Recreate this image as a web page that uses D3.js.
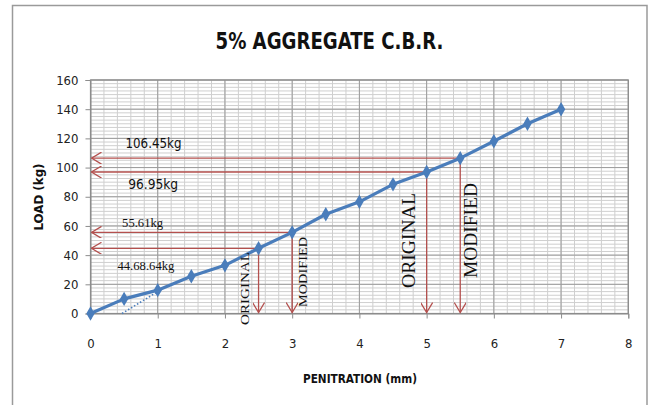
<!DOCTYPE html>
<html>
<head>
<meta charset="utf-8">
<script src="https://cdn.jsdelivr.net/npm/d3@7"></script>
<style>
  html, body { margin: 0; padding: 0; background: #fff; }
  svg { display: block; }
</style>
</head>
<body>
<svg id="chart" width="649" height="405"></svg>
<script>
// CBR test readings: penetration (mm) against load (kg)
const penetration = [0, 0.5, 1, 1.5, 2, 2.5, 3, 3.5, 4, 4.5, 5, 5.5, 6, 6.5, 7];
const load = [0, 10, 16, 25.5, 33, 44.68, 55.61, 68, 76.5, 88.5, 96.95, 106.45, 118, 130, 140];

// Axis ticks
const xTicks = [0, 1, 2, 3, 4, 5, 6, 7, 8];
const yTicks = [0, 20, 40, 60, 80, 100, 120, 140, 160];

// Read-off loads at 2.5 mm and 5.0 mm, original and corrected origin
const readPen = [2.5, 3, 5, 5.5];
const readLoad = [44.68, 55.61, 96.95, 106.45];
const readText = ["44.68.64kg", "55.61kg", "96.95kg", "106.45kg"];
const readKind = ["ORIGINAL", "MODIFIED", "ORIGINAL", "MODIFIED"];

// Origin correction line
const corrPen = [0.47, 1];
const corrLoad = [0, 15];

const W = 649, H = 405;
const svg = d3.select("#chart");

const x = d3.scaleLinear().domain([0, 8]).range([90.5, 628.3]);
const y = d3.scaleLinear().domain([0, 160]).range([313.5, 80]);

const narrow = "'Liberation Sans Narrow','DejaVu Sans Condensed','Roboto Condensed',Arial,sans-serif";
const serif = "'Liberation Serif','Times New Roman',serif";
const red = "#b4504e";
const blue = "#4a7dbb";

// outer chart frame
svg.append("rect")
  .attr("x", 12.5).attr("y", 5.5)
  .attr("width", 634.5).attr("height", 430)
  .attr("fill", "#fff").attr("stroke", "#9a9a9a").attr("stroke-width", 1.5);

// title
svg.append("text")
  .attr("x", 329.5).attr("y", 48.5)
  .attr("text-anchor", "middle")
  .attr("font-family", narrow).attr("font-weight", "bold")
  .attr("font-size", 23).attr("fill", "#111")
  .attr("textLength", 228).attr("lengthAdjust", "spacingAndGlyphs")
  .text("5% AGGREGATE C.B.R.");

// grid
const grid = svg.append("g");
const minorX = d3.range(0, 8.0001, 0.2);
const minorY = d3.range(0, 160.0001, 2.5);
grid.selectAll("line.mx").data(minorX).join("line")
  .attr("x1", d => x(d)).attr("x2", d => x(d))
  .attr("y1", y(0)).attr("y2", y(160))
  .attr("stroke", "#cfcfcf").attr("stroke-width", 1);
grid.selectAll("line.my").data(minorY).join("line")
  .attr("x1", x(0)).attr("x2", x(8))
  .attr("y1", d => y(d)).attr("y2", d => y(d))
  .attr("stroke", "#cfcfcf").attr("stroke-width", 1);
grid.selectAll("line.Mx").data(xTicks).join("line")
  .attr("x1", d => x(d)).attr("x2", d => x(d))
  .attr("y1", y(0)).attr("y2", y(160))
  .attr("stroke", "#9c9c9c").attr("stroke-width", 1);
grid.selectAll("line.My").data(yTicks).join("line")
  .attr("x1", x(0)).attr("x2", x(8))
  .attr("y1", d => y(d)).attr("y2", d => y(d))
  .attr("stroke", "#9c9c9c").attr("stroke-width", 1);
svg.append("rect")
  .attr("x", x(0)).attr("y", y(160))
  .attr("width", x(8) - x(0)).attr("height", y(0) - y(160))
  .attr("fill", "none").attr("stroke", "#8c8c8c").attr("stroke-width", 1.2);

// axes
const xAxis = svg.append("g").attr("transform", `translate(0,${y(0)})`)
  .call(d3.axisBottom(x).tickValues(xTicks).tickSize(5).tickPadding(20).tickFormat(d3.format("d")));
const yAxis = svg.append("g").attr("transform", `translate(${x(0)},0)`)
  .call(d3.axisLeft(y).tickValues(yTicks).tickSize(5).tickPadding(8).tickFormat(d3.format("d")));
[xAxis, yAxis].forEach(g => {
  g.select(".domain").attr("stroke", "#8c8c8c");
  g.selectAll(".tick line").attr("stroke", "#8c8c8c");
  g.selectAll(".tick text").attr("font-family", narrow).attr("font-size", 13).attr("fill", "#222");
});
yAxis.selectAll(".tick text").attr("x", -12);

// axis titles
svg.append("text")
  .attr("transform", "translate(43,197) rotate(-90)")
  .attr("text-anchor", "middle")
  .attr("font-family", narrow).attr("font-weight", "bold")
  .attr("font-size", 12).attr("fill", "#111")
  .attr("textLength", 67).attr("lengthAdjust", "spacingAndGlyphs")
  .text("LOAD (kg)");
svg.append("text")
  .attr("x", 360).attr("y", 383)
  .attr("text-anchor", "middle")
  .attr("font-family", narrow).attr("font-weight", "bold")
  .attr("font-size", 13).attr("fill", "#111")
  .attr("textLength", 114).attr("lengthAdjust", "spacingAndGlyphs")
  .text("PENITRATION (mm)");

// origin correction (dotted)
svg.append("line")
  .attr("x1", x(corrPen[0])).attr("y1", y(corrLoad[0]))
  .attr("x2", x(corrPen[1])).attr("y2", y(corrLoad[1]))
  .attr("stroke", blue).attr("stroke-width", 1.6)
  .attr("stroke-dasharray", "1.5,2");

// read-off arrows
const defs = svg.append("defs");
defs.append("marker")
  .attr("id", "openArrow")
  .attr("viewBox", "0 0 12 12")
  .attr("refX", 11).attr("refY", 6)
  .attr("markerWidth", 12).attr("markerHeight", 12)
  .attr("markerUnits", "userSpaceOnUse")
  .attr("orient", "auto")
  .append("path")
  .attr("d", "M1,0 L11,6 L1,12")
  .attr("fill", "none").attr("stroke", red).attr("stroke-width", 1.3);

const arrows = svg.append("g");
readPen.forEach((p, i) => {
  const v = readLoad[i];
  arrows.append("line")
    .attr("x1", x(p)).attr("y1", y(v)).attr("x2", x(0) + 1).attr("y2", y(v))
    .attr("stroke", red).attr("stroke-width", 1.3)
    .attr("marker-end", "url(#openArrow)");
  arrows.append("line")
    .attr("x1", x(p)).attr("y1", y(v)).attr("x2", x(p)).attr("y2", y(0) - 1)
    .attr("stroke", red).attr("stroke-width", 1.3)
    .attr("marker-end", "url(#openArrow)");
});

// load curve
svg.append("path")
  .datum(penetration.map((p, i) => [p, load[i]]))
  .attr("d", d3.line().x(d => x(d[0])).y(d => y(d[1])))
  .attr("fill", "none").attr("stroke", blue).attr("stroke-width", 3.2)
  .attr("stroke-linejoin", "round");
svg.selectAll("path.pt").data(penetration.map((p, i) => [p, load[i]])).join("path")
  .attr("class", "pt")
  .attr("transform", d => `translate(${x(d[0])},${y(d[1])})`)
  .attr("d", d3.symbol().type(d3.symbolDiamond).size(60))
  .attr("fill", blue);

// read-off value labels
const valueLabels = [
  { i: 3, dx: 0.52, dy: -10, font: narrow, size: 14, len: 56 },
  { i: 2, dx: 0.56, dy: 17, font: narrow, size: 14, len: 50 },
  { i: 1, dx: 0.47, dy: -5, font: serif, size: 13, len: 41 },
  { i: 0, dx: 0.40, dy: 22, font: serif, size: 13, len: 57 }
];
valueLabels.forEach(l => {
  svg.append("text")
    .attr("x", x(l.dx)).attr("y", y(readLoad[l.i]) + l.dy)
    .attr("font-family", l.font).attr("font-size", l.size).attr("fill", "#111")
    .attr("textLength", l.len).attr("lengthAdjust", "spacingAndGlyphs")
    .text(readText[l.i]);
});

// vertical ORIGINAL / MODIFIED labels
const kindLabels = [
  { i: 0, dx: -10, y0: 325, size: 13, len: 73 },
  { i: 1, dx: 15, y0: 307, size: 13, len: 70 },
  { i: 2, dx: -12, y0: 288, size: 19, len: 95 },
  { i: 3, dx: 17, y0: 278, size: 19, len: 95 }
];
kindLabels.forEach(l => {
  const bx = x(readPen[l.i]) + l.dx;
  svg.append("text")
    .attr("transform", `translate(${bx},${l.y0}) rotate(-90)`)
    .attr("font-family", serif).attr("font-size", l.size).attr("fill", "#111")
    .attr("textLength", l.len).attr("lengthAdjust", "spacingAndGlyphs")
    .text(readKind[l.i]);
});
</script>
</body>
</html>
